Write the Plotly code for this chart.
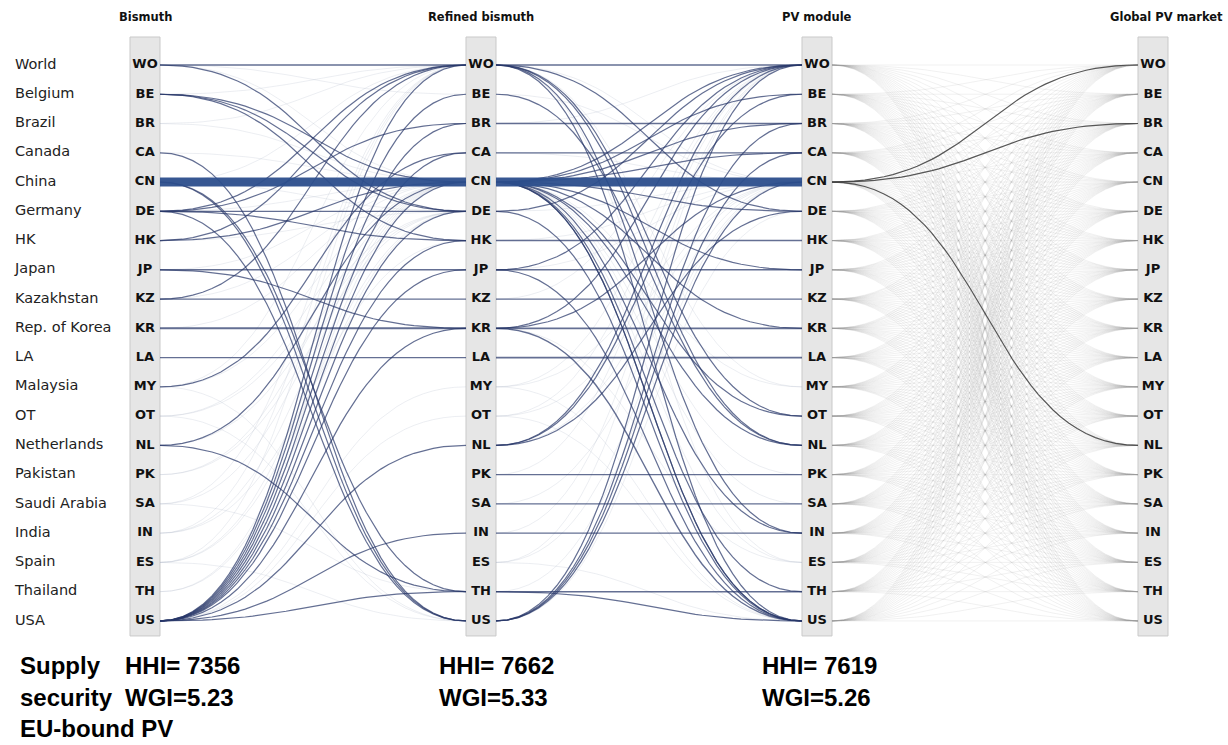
import numpy as np
import plotly.graph_objects as go

# ---- nodes -------------------------------------------------------------
codes = ["WO", "BE", "BR", "CA", "CN", "DE", "HK", "JP", "KZ", "KR",
         "LA", "MY", "OT", "NL", "PK", "SA", "IN", "ES", "TH", "US"]
names = ["World", "Belgium", "Brazil", "Canada", "China", "Germany", "HK",
         "Japan", "Kazakhstan", "Rep. of Korea", "LA", "Malaysia", "OT",
         "Netherlands", "Pakistan", "Saudi Arabia", "India", "Spain",
         "Thailand", "USA"]
stages = ["Bismuth", "Refined bismuth", "PV module", "Global PV market"]

# ---- EU-bound flows: bismuth -> refined bismuth --------------------------
s1_src = ["WO", "WO", "BE", "BE", "BE", "CA", "CN", "CN", "CN", "DE", "DE",
          "DE", "DE", "DE", "HK", "HK", "JP", "JP", "KZ", "KZ", "KR", "LA",
          "MY", "NL", "NL", "US", "US", "US", "US", "US", "US", "US", "US",
          "US", "US", "US", "US"]
s1_dst = ["WO", "DE", "CN", "DE", "HK", "US", "CN", "US", "TH", "WO", "BR",
          "DE", "HK", "US", "WO", "CN", "JP", "KR", "KZ", "WO", "KR", "LA",
          "CA", "CN", "TH", "WO", "BE", "BR", "CA", "CN", "DE", "HK", "JP",
          "KR", "NL", "IN", "TH"]
s1_w = [1.6, 1.2, 1.2, 1.2, 1.2, 1.2, 9.0, 1.2, 1.2, 1.2, 1.2,
        1.2, 1.2, 1.2, 1.2, 1.2, 1.6, 1.2, 1.2, 1.2, 2.0, 1.4,
        1.2, 1.2, 1.2, 1.2, 1.2, 1.2, 1.2, 1.2, 1.2, 1.2, 1.2,
        1.2, 1.2, 1.2, 1.2]

# ---- EU-bound flows: refined bismuth -> PV module ------------------------
s2_src = ["WO", "WO", "WO", "WO", "WO", "WO", "BE", "BR", "CA", "CN", "CN",
          "CN", "CN", "CN", "CN", "CN", "CN", "CN", "CN", "CN", "CN", "CN",
          "CN", "DE", "DE", "HK", "JP", "JP", "JP", "KZ", "KR", "KR", "KR",
          "KR", "LA", "NL", "NL", "NL", "PK", "SA", "IN", "TH", "TH", "US",
          "US", "US", "US"]
s2_dst = ["WO", "DE", "NL", "US", "OT", "IN", "NL", "BR", "CA", "CN", "WO",
          "BE", "BR", "CA", "DE", "JP", "NL", "OT", "US", "IN", "TH", "KR",
          "US", "WO", "US", "HK", "WO", "JP", "US", "KZ", "KR", "WO", "CN",
          "US", "LA", "WO", "BE", "DE", "PK", "SA", "IN", "TH", "US", "WO",
          "CA", "CN", "BR"]
s2_w = [1.6, 1.2, 1.2, 1.2, 1.2, 1.2, 1.2, 1.4, 1.2, 9.0, 1.2,
        1.2, 1.2, 1.2, 1.2, 1.2, 1.2, 1.2, 1.2, 1.2, 1.2, 1.2,
        1.2, 1.2, 1.2, 1.4, 1.2, 1.4, 1.2, 1.4, 1.6, 1.2, 1.2,
        1.4, 1.6, 1.2, 1.2, 1.2, 1.4, 1.4, 1.4, 1.4, 1.2, 1.2,
        1.2, 1.2, 1.2]

# ---- PV module -> global market: flows reaching the EU -------------------
s3_src = ["CN", "CN", "CN"]
s3_dst = ["WO", "BR", "NL"]

# ---- other (non EU-bound) trade flows ------------------------------------
f1_src = ["WO", "WO", "BE", "BR", "BR", "CA", "CN", "CN", "DE", "HK", "JP",
          "KZ", "KR", "MY", "MY", "OT", "OT", "NL", "PK", "SA", "SA", "IN",
          "IN", "ES", "ES", "ES", "TH", "TH", "US", "US", "OT", "MY", "ES",
          "SA", "IN", "PK"]
f1_dst = ["CN", "BE", "WO", "CN", "WO", "CN", "WO", "DE", "CN", "DE", "CN",
          "CN", "CN", "CN", "WO", "CN", "DE", "DE", "CN", "WO", "CN", "CN",
          "WO", "CN", "DE", "WO", "CN", "DE", "MY", "OT", "US", "US", "US",
          "TH", "HK", "DE"]
f2_src = ["WO", "BE", "BR", "CA", "DE", "HK", "JP", "KZ", "MY", "MY", "OT",
          "OT", "NL", "PK", "SA", "IN", "ES", "ES", "TH", "US", "CN", "CN",
          "CN", "CN", "WO", "WO", "KR", "MY", "ES", "OT"]
f2_dst = ["CN", "CN", "WO", "CN", "CN", "CN", "CN", "WO", "WO", "CN", "WO",
          "CN", "CN", "WO", "CN", "WO", "WO", "CN", "CN", "DE", "MY", "ES",
          "PK", "SA", "MY", "ES", "ES", "US", "US", "US"]
# every PV producer ships to every market
f3_src = codes
f3_dst = codes

# ---- bottom indicators ---------------------------------------------------
hhi = [7356, 7662, 7619]
wgi = [5.23, 5.33, 5.26]

# ---- geometry (data units: columns at x = 0..3, nodes at y = 0..19) -----
PX_X = 336.0          # pixels per column step
PX_Y = 29.26          # pixels per node step
half_box = 15 / PX_X  # half width of the grey node boxes
x_range = [-145 / PX_X, 3 + (1228 - 1153) / PX_X]
y_range = [(745 - 65) / PX_Y, -65 / PX_Y]

idx = {c: i for i, c in enumerate(codes)}
t = np.linspace(0, 1, 40)


def curve(col, s, d):
    """Sankey-style cubic curve between node s of column col and node d of col+1."""
    x0, x1 = col + half_box, col + 1 - half_box
    y0, y1 = idx[s], idx[d]
    xm = (x0 + x1) / 2
    bx = (1 - t) ** 3 * x0 + 3 * (1 - t) ** 2 * t * xm + 3 * (1 - t) * t ** 2 * xm + t ** 3 * x1
    by = (1 - t) ** 3 * y0 + 3 * (1 - t) ** 2 * t * y0 + 3 * (1 - t) * t ** 2 * y1 + t ** 3 * y1
    return list(bx), list(by)


def bundle(col, srcs, dsts):
    xs, ys = [], []
    for s, d in zip(srcs, dsts):
        bx, by = curve(col, s, d)
        xs += bx + [None]
        ys += by + [None]
    return xs, ys


fig = go.Figure()

# faint background flows
f3_s = [s for s in f3_src for d in f3_dst]
f3_d = [d for s in f3_src for d in f3_dst]
for col, srcs, dsts, colr, w in [
    (0, f1_src, f1_dst, "rgba(170,178,195,0.22)", 1.0),
    (1, f2_src, f2_dst, "rgba(170,178,195,0.22)", 1.0),
    (2, f3_s, f3_d, "rgba(150,150,150,0.13)", 1.0),
]:
    xs, ys = bundle(col, srcs, dsts)
    fig.add_trace(go.Scatter(x=xs, y=ys, mode="lines", hoverinfo="skip",
                             line=dict(color=colr, width=w), showlegend=False))

# EU-bound flows, grouped by line width
for col, srcs, dsts, ws in [(0, s1_src, s1_dst, s1_w), (1, s2_src, s2_dst, s2_w)]:
    for w in sorted(set(ws)):
        sel = [(s, d) for s, d, ww in zip(srcs, dsts, ws) if ww == w]
        xs, ys = bundle(col, [p[0] for p in sel], [p[1] for p in sel])
        colr = "rgba(44,78,140,0.95)" if w > 5 else "rgba(40,55,105,0.72)"
        fig.add_trace(go.Scatter(x=xs, y=ys, mode="lines", hoverinfo="skip",
                                 line=dict(color=colr, width=w), showlegend=False))

xs, ys = bundle(2, s3_src, s3_dst)
fig.add_trace(go.Scatter(x=xs, y=ys, mode="lines", hoverinfo="skip",
                         line=dict(color="rgba(70,70,70,0.9)", width=1.2),
                         showlegend=False))

# node boxes
for col in range(len(stages)):
    fig.add_shape(type="rect", layer="below",
                  x0=col - half_box, x1=col + half_box,
                  y0=-28 / PX_Y, y1=19 + 15 / PX_Y,
                  fillcolor="#e6e6e6", line=dict(color="#c9c9c9", width=1))

# node codes
for col in range(len(stages)):
    fig.add_trace(go.Scatter(
        x=[col] * len(codes), y=list(range(len(codes))), mode="text",
        text=[f"<b>{c}</b>" for c in codes], hoverinfo="skip",
        textfont=dict(family="DejaVu Sans", size=13, color="#111111"),
        showlegend=False))

# country names
fig.add_trace(go.Scatter(
    x=[(15 - 145) / PX_X] * len(names), y=list(range(len(names))),
    mode="text", text=names, textposition="middle right", hoverinfo="skip",
    textfont=dict(family="DejaVu Sans", size=14.5, color="#222222"),
    showlegend=False))

# column titles (the last one is right-aligned to the page edge)
title_font = dict(family="DejaVu Sans", size=11.5, color="#111111")
for tx, name in zip([0, 1, 2], stages[:3]):
    fig.add_annotation(x=tx, y=(17 - 65) / PX_Y, text=f"<b>{name}</b>",
                       showarrow=False, xanchor="center", yanchor="middle",
                       font=title_font)
fig.add_annotation(x=1225 / 1228, y=(17 - 65) / PX_Y, xref="paper",
                   text=f"<b>{stages[3]}</b>", showarrow=False,
                   xanchor="right", yanchor="middle", font=title_font)

# supply-security indicators
big = dict(family="Liberation Sans, Arial, sans-serif", size=24, color="#000000")
for ty, word in zip([665, 697, 728], ["Supply", "security", "EU-bound PV"]):
    fig.add_annotation(x=18 / 1228, y=1 - ty / 745, xref="paper", yref="paper",
                       text=f"<b>{word}</b>", showarrow=False,
                       xanchor="left", yanchor="middle", font=big)
for tx, h, g in zip([123, 437, 760], hhi, wgi):
    fig.add_annotation(x=tx / 1228, y=1 - 665 / 745, xref="paper", yref="paper",
                       text=f"<b>HHI= {h}</b>", showarrow=False,
                       xanchor="left", yanchor="middle", font=big)
    fig.add_annotation(x=tx / 1228, y=1 - 697 / 745, xref="paper", yref="paper",
                       text=f"<b>WGI={g:.2f}</b>", showarrow=False,
                       xanchor="left", yanchor="middle", font=big)

fig.update_xaxes(range=x_range, visible=False, fixedrange=True)
fig.update_yaxes(range=y_range, visible=False, fixedrange=True)
fig.update_layout(width=1228, height=745, margin=dict(l=0, r=0, t=0, b=0),
                  plot_bgcolor="white", paper_bgcolor="white", showlegend=False)

fig.write_html("out.html")
